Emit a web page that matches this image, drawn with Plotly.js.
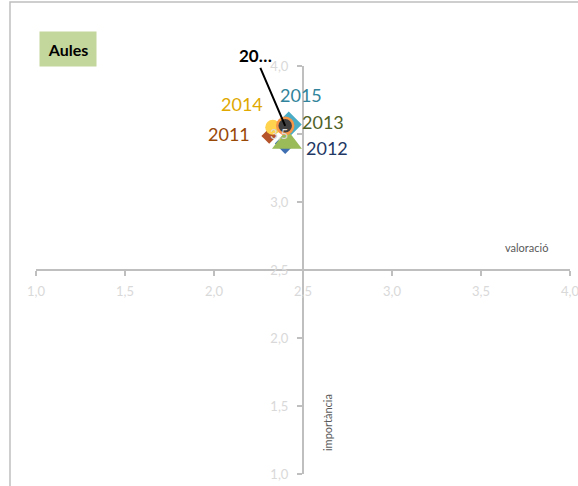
<!DOCTYPE html>
<html>
<head>
<meta charset="utf-8">
<script src="https://cdn.plot.ly/plotly-3.0.1.min.js"></script>
<style>html,body{margin:0;padding:0;background:#fff;}#chart{width:578px;height:486px;}</style>
</head>
<body>
<div id="chart"></div>
<script>
// Data
const years = ['2011', '2012', '2013', '2014', '2015', '20…'];
const valoracio = [2.31, 2.40, 2.41, 2.33, 2.42, 2.40];
const importancia = [3.485, 3.43, 3.44, 3.55, 3.57, 3.56];
const xTickVals = [1.0, 1.5, 2.0, 2.5, 3.0, 3.5, 4.0];
const yTickVals = [1.0, 1.5, 2.0, 2.5, 3.0, 3.5, 4.0];

// Styles (drawing order / marker look / label placement)
const drawOrder = [1, 0, 4, 3, 2, 5];
const markerSymbols = ['square', 'diamond', 'triangle-up', 'circle', 'diamond', 'circle'];
const markerSizes = [11, 16, 26, 15, 20, 16];
const markerColors = ['#b5542a', '#3f6fb0', '#9bbb59', '#ffd34e', '#4bacc6', '#404040'];
const markerAngles = [45, 0, 0, 0, 0, 0];
const markerLines = [null, null, null, null, null, {color: '#f79646', width: 2.5}];
const labelColors = ['#984807', '#1f3864', '#4f6228', '#e0a800', '#31849b', '#000000'];
const labelShiftX = [-40, 42, 36, -31, 12, 0];
const labelShiftY = [2, -4, 20, 23, 29, 0];

const FONT = 'Lato, "Open Sans", sans-serif';

const traces = drawOrder.map(i => ({
  type: 'scatter', mode: 'markers',
  x: [valoracio[i]], y: [importancia[i]],
  name: years[i],
  marker: {
    symbol: markerSymbols[i], size: markerSizes[i], color: markerColors[i],
    angle: markerAngles[i],
    line: markerLines[i] || {width: 0}
  },
  hoverinfo: 'skip', showlegend: false
}));

const annotations = years.map((yr, i) => {
  if (i === years.length - 1) {
    return {
      x: valoracio[i], y: importancia[i], xref: 'x', yref: 'y',
      text: '<b>' + yr + '</b>', showarrow: true, arrowhead: 0, arrowwidth: 2,
      arrowcolor: '#000', ax: -30, ay: -70, standoff: 0,
      font: {family: FONT, size: 17, color: labelColors[i]}
    };
  }
  return {
    x: valoracio[i], y: importancia[i], xref: 'x', yref: 'y',
    xanchor: 'center', yanchor: 'middle',
    text: yr, showarrow: false, xshift: labelShiftX[i], yshift: labelShiftY[i],
    font: {family: FONT, size: 18, color: labelColors[i]}
  };
});

annotations.push({
  xref: 'paper', yref: 'paper', x: 0.0599, y: 1.0417,
  xanchor: 'center', yanchor: 'middle',
  text: '<b>Aules</b>', showarrow: false, width: 54, height: 32,
  bgcolor: '#c3d69b', font: {family: FONT, size: 16, color: '#000'}
});
annotations.push({
  xref: 'paper', yref: 'paper', x: 0.919, y: 0.554,
  xanchor: 'center', yanchor: 'middle',
  text: 'valoració', showarrow: false,
  font: {family: FONT, size: 11, color: '#595959'}
});
annotations.push({
  xref: 'paper', yref: 'paper', x: 0.545, y: 0.125,
  xanchor: 'center', yanchor: 'middle',
  text: 'importància', showarrow: false, textangle: -90,
  font: {family: FONT, size: 11, color: '#595959'}
});

const axisCommon = {
  range: [1, 4], autorange: false, showgrid: false, zeroline: false,
  showline: true, linecolor: '#bfbfbf', linewidth: 2,
  ticks: 'outside', ticklen: 5, tickwidth: 1.5, tickcolor: '#bfbfbf',
  tickformat: '.1f', tickfont: {family: FONT, size: 13, color: '#d9d9d9'},
  ticklabeloverflow: 'allow',
  anchor: 'free', position: 0.5, fixedrange: true
};

const layout = {
  width: 578, height: 486,
  margin: {l: 36, r: 8, t: 66, b: 12, pad: 0},
  paper_bgcolor: '#fff', plot_bgcolor: 'rgba(0,0,0,0)',
  separators: ',.',
  xaxis: Object.assign({}, axisCommon, {tickvals: xTickVals, side: 'bottom', ticklabelstandoff: 4}),
  yaxis: Object.assign({}, axisCommon, {tickvals: yTickVals, side: 'left', ticklabelstandoff: 6}),
  annotations: annotations,
  shapes: [{
    type: 'rect', xref: 'paper', yref: 'paper',
    x0: -0.0487, x1: 1.2, y0: -0.2, y1: 1.157,
    line: {color: '#bfbfbf', width: 1.5}, fillcolor: 'rgba(0,0,0,0)', layer: 'below'
  }],
  showlegend: false
};

Plotly.newPlot('chart', traces, layout, {staticPlot: true, displayModeBar: false});
</script>
</body>
</html>
